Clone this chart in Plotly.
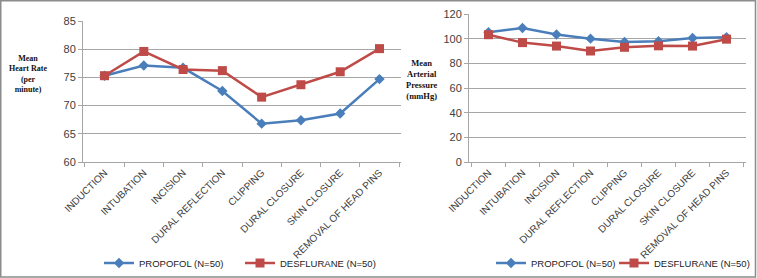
import plotly.graph_objects as go

categories = ["INDUCTION", "INTUBATION", "INCISION", "DURAL REFLECTION", "CLIPPING",
              "DURAL CLOSURE", "SKIN CLOSURE", "REMOVAL OF HEAD PINS"]
hr_propofol = [75.3, 77.1, 76.7, 72.6, 66.8, 67.4, 68.6, 74.7]
hr_desflurane = [75.3, 79.6, 76.4, 76.2, 71.5, 73.7, 76.0, 80.1]
map_propofol = [105.2, 108.6, 103.4, 100.0, 97.3, 98.0, 100.5, 101.2]
map_desflurane = [103.2, 96.8, 94.0, 90.0, 93.0, 94.2, 94.0, 99.6]
hr_ticks = [60, 65, 70, 75, 80, 85]
map_ticks = [0, 20, 40, 60, 80, 100, 120]
hr_title_lines = ["Mean", "Heart Rate", "(per", "minute)"]
map_title_lines = ["Mean", "Arterial", "Pressure", "(mmHg)"]

W, H = 757, 278
BLUE = "#4a7ebb"
RED = "#be4b48"
GRID = "#a6a6a6"
TXT = "#404040"

fig = go.Figure()

def add_pair(xa, ya, yp, yd, leg_p, leg_d):
    fig.add_trace(go.Scatter(x=categories, y=yp, name="PROPOFOL (N=50)", mode="lines+markers",
                             line=dict(color=BLUE, width=2.5), marker=dict(symbol="diamond", size=8, color=BLUE),
                             xaxis=xa, yaxis=ya, legend=leg_p))
    fig.add_trace(go.Scatter(x=categories, y=yd, name="DESFLURANE (N=50)", mode="lines+markers",
                             line=dict(color=RED, width=2.5), marker=dict(symbol="square", size=9, color=RED),
                             xaxis=xa, yaxis=ya, legend=leg_d))

add_pair("x", "y", hr_propofol, hr_desflurane, "legend", "legend2")
add_pair("x2", "y2", map_propofol, map_desflurane, "legend3", "legend4")

def px_x(p):
    return p / W

def px_y(p):
    return 1 - p / H

xcommon = dict(type="category", showgrid=False, showline=True, linecolor=GRID, linewidth=1,
               ticks="outside", tickson="boundaries", ticklen=4, tickcolor=GRID, tickangle=-45,
               tickfont=dict(family="Liberation Sans", size=10, color=TXT), fixedrange=True,
               automargin=False)
ycommon = dict(showgrid=True, gridcolor=GRID, gridwidth=1, showline=True, linecolor=GRID, linewidth=1,
               ticks="outside", ticklen=4, tickcolor=GRID, zeroline=False,
               tickfont=dict(family="Liberation Sans", size=11, color=TXT), fixedrange=True,
               automargin=False)

legfont = dict(family="Liberation Sans", size=9.5, color="#222")

def leg(xp):
    return dict(orientation="h", x=px_x(xp), y=px_y(263), xanchor="left", yanchor="middle",
                font=legfont, itemwidth=30, bgcolor="rgba(0,0,0,0)")

fig.update_layout(
    width=W, height=H,
    margin=dict(l=0, r=0, t=0, b=0, autoexpand=False),
    paper_bgcolor="white", plot_bgcolor="white",
    xaxis=dict(domain=[px_x(83), px_x(401)], anchor="y", **xcommon),
    yaxis=dict(domain=[px_y(162), px_y(21)], anchor="x", range=[60, 85], tickvals=hr_ticks, **ycommon),
    xaxis2=dict(domain=[px_x(469), px_x(746)], anchor="y2", **xcommon),
    yaxis2=dict(domain=[px_y(162), px_y(14)], anchor="x2", range=[0, 120], tickvals=map_ticks, **ycommon),
    legend=leg(99),
    legend2=leg(240),
    legend3=leg(491),
    legend4=leg(614),
    showlegend=True,
)

def title_block(lines, xc, yc, size):
    fig.add_annotation(text="<b>" + "<br>".join(lines) + "</b>", x=px_x(xc), y=px_y(yc),
                       xref="paper", yref="paper", showarrow=False, align="center",
                       xanchor="center", yanchor="middle", borderpad=0,
                       font=dict(family="Liberation Serif", size=size, color="#111"))

title_block(hr_title_lines, 28, 74, 8)
title_block(map_title_lines, 422, 79, 8.5)

fig.add_shape(type="rect", xref="paper", yref="paper", x0=0.001, y0=0.004, x1=0.998, y1=0.997,
              line=dict(color="#8c8c8c", width=1.5))

fig.write_html("out.html", config={"displayModeBar": False},
               post_script="document.body.style.margin='0';document.body.style.overflow='hidden';")
